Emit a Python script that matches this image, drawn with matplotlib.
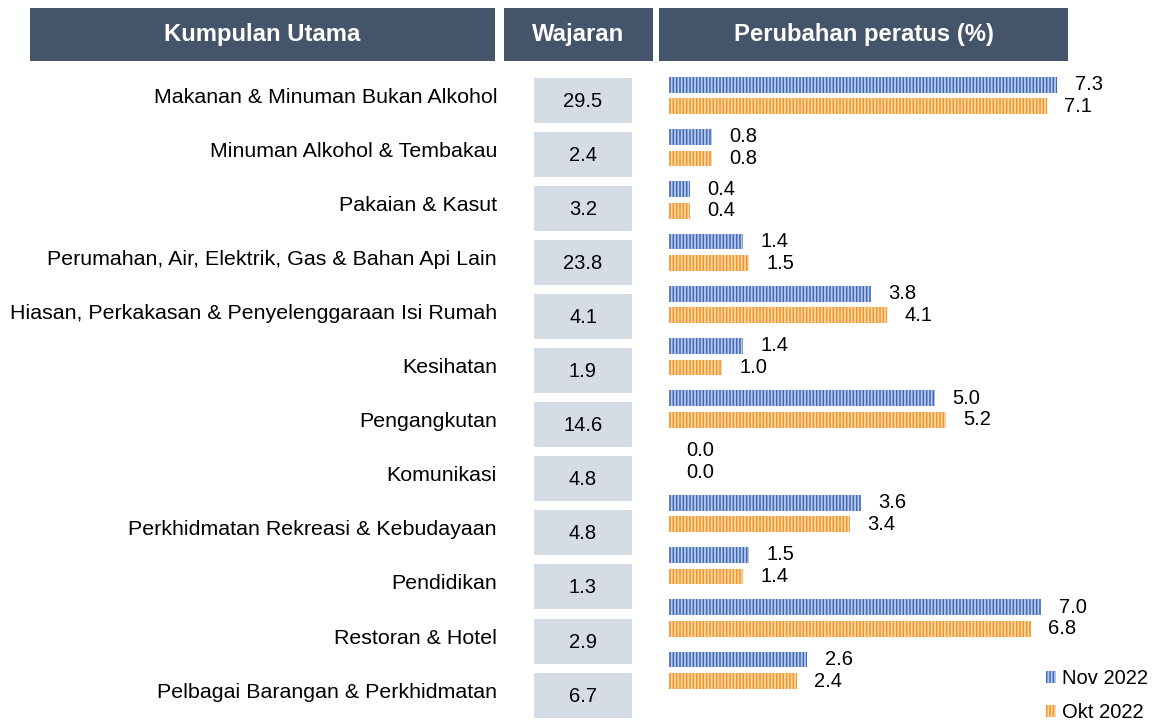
import matplotlib
matplotlib.use('Agg')
import matplotlib.pyplot as plt
from matplotlib.patches import Rectangle

plt.rcParams['font.family'] = ['Liberation Sans', 'DejaVu Sans']
plt.rcParams['hatch.linewidth'] = 1.3

# data
categories = [
    'Makanan & Minuman Bukan Alkohol',
    'Minuman Alkohol & Tembakau',
    'Pakaian & Kasut',
    'Perumahan, Air, Elektrik, Gas & Bahan Api Lain',
    'Hiasan, Perkakasan & Penyelenggaraan Isi Rumah',
    'Kesihatan',
    'Pengangkutan',
    'Komunikasi',
    'Perkhidmatan Rekreasi & Kebudayaan',
    'Pendidikan',
    'Restoran & Hotel',
    'Pelbagai Barangan & Perkhidmatan',
]
weights = [29.5, 2.4, 3.2, 23.8, 4.1, 1.9, 14.6, 4.8, 4.8, 1.3, 2.9, 6.7]
nov_2022 = [7.3, 0.8, 0.4, 1.4, 3.8, 1.4, 5.0, 0.0, 3.6, 1.5, 7.0, 2.6]
okt_2022 = [7.1, 0.8, 0.4, 1.5, 4.1, 1.0, 5.2, 0.0, 3.4, 1.4, 6.8, 2.4]
headers = ['Kumpulan Utama', 'Wajaran', 'Perubahan peratus (%)']

W, H = 1159, 722
header_col = '#44546A'
box_col = '#D6DCE5'
blue = '#3B68BA'
orange = '#F7921A'
fs = 14.5

fig = plt.figure(figsize=(W / 100, H / 100), dpi=100)

# table part, drawn in pixel coordinates
bg = fig.add_axes([0, 0, 1, 1])
bg.set_xlim(0, W)
bg.set_ylim(H, 0)
bg.axis('off')

header_boxes = [(30, 495), (504, 653), (659, 1068)]
for (x0, x1), txt in zip(header_boxes, headers):
    bg.add_patch(Rectangle((x0, 8), x1 - x0, 53, color=header_col, lw=0))
    bg.text((x0 + x1) / 2, 34, txt, color='white', fontsize=17.2,
            fontweight='bold', ha='center', va='center')

pitch = 54.05
for i, (cat, w) in enumerate(zip(categories, weights)):
    yc = 100.5 + i * pitch
    bg.add_patch(Rectangle((534, yc - 22.5), 98, 45, color=box_col, lw=0))
    bg.text(583, yc + 1, f'{w:.1f}', fontsize=fs, ha='center', va='center')
    bg.text(497, yc - 3, cat, fontsize=15.4, ha='right', va='center')

# bar part
px_per_unit = 53.2
x_left = 669
row_px = 52.25
top_px = 95.5 - row_px / 2
bot_px = 95.5 + 11.5 * row_px
ax = fig.add_axes([x_left / W, 1 - bot_px / H, (W - x_left) / W, (bot_px - top_px) / H])
ax.set_facecolor('none')
ax.set_xlim(0, (W - x_left) / px_per_unit)
ax.set_ylim(11.5, -0.5)
ax.axis('off')

rows = list(range(len(categories)))
off = 0.206
bh = 0.30
b1 = ax.barh([r - off for r in rows], nov_2022, height=bh, color=blue,
             edgecolor=(1, 1, 1, 0.65), lw=0, hatch='|||||', label='Nov 2022')
b2 = ax.barh([r + off for r in rows], okt_2022, height=bh, color=orange,
             edgecolor=(1, 1, 1, 0.65), lw=0, hatch='|||||', label='Okt 2022')

for r, v in zip(rows, nov_2022):
    ax.annotate(f'{v:.1f}', (v, r - off), xytext=(12.5, 0), textcoords='offset points',
                fontsize=fs, ha='left', va='center')
for r, v in zip(rows, okt_2022):
    ax.annotate(f'{v:.1f}', (v, r + off), xytext=(12.5, 0), textcoords='offset points',
                fontsize=fs, ha='left', va='center')

fig.legend(handles=[b1, b2], loc='upper left', bbox_to_anchor=(1046 / W, 1 - 669 / H),
           frameon=False, fontsize=fs, borderpad=0, borderaxespad=0,
           handlelength=0.5, handleheight=0.55, handletextpad=0.3, labelspacing=0.75)

fig.savefig('out.png', dpi=100)
